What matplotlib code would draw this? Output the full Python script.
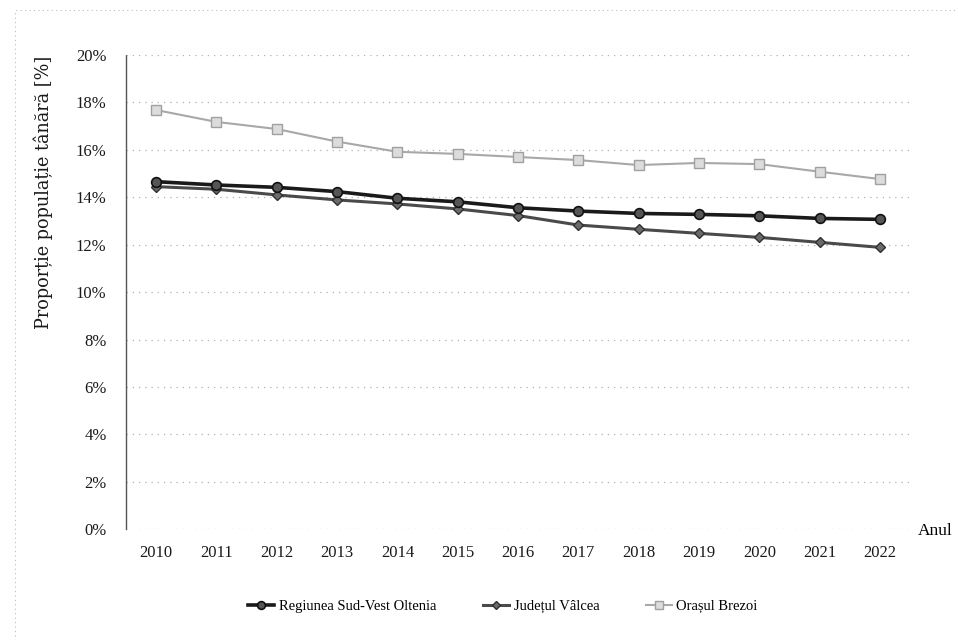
import numpy as np
import matplotlib.pyplot as plt
from matplotlib.patches import Rectangle

# Data (percent)
years = ["2010", "2011", "2012", "2013", "2014", "2015", "2016",
         "2017", "2018", "2019", "2020", "2021", "2022"]
regiunea = [14.66, 14.52, 14.42, 14.24, 13.96, 13.81, 13.56,
            13.42, 13.32, 13.28, 13.22, 13.11, 13.07]
valcea = [14.45, 14.34, 14.10, 13.89, 13.72, 13.51, 13.23,
          12.83, 12.65, 12.48, 12.31, 12.10, 11.89]
brezoi = [17.68, 17.18, 16.88, 16.35, 15.92, 15.83, 15.70,
          15.57, 15.36, 15.45, 15.40, 15.08, 14.77]
y_ticks = [0, 2, 4, 6, 8, 10, 12, 14, 16, 18, 20]

plt.rcParams['font.family'] = ['Liberation Serif', 'DejaVu Serif']

fig = plt.figure(figsize=(9.58, 6.40), dpi=100)
ax = fig.add_axes([0.1315, 0.173, 0.8185, 0.741])

x = np.arange(len(years))

ax.plot(x, brezoi, color='#a8a8a8', lw=1.5, marker='s', ms=6.5,
        mfc='#dcdcdc', mec='#a0a0a0', mew=1.0, label='Orașul Brezoi', zorder=3)
ax.plot(x, valcea, color='#4a4a4a', lw=2.2, marker='D', ms=5,
        mfc='#6a6a6a', mec='#303030', mew=1.0, label='Județul Vâlcea', zorder=4)
ax.plot(x, regiunea, color='#1a1a1a', lw=2.6, marker='o', ms=7,
        mfc='#555555', mec='#111111', mew=1.2, label='Regiunea Sud-Vest Oltenia', zorder=5)

ax.set_xlim(-0.5, len(years) - 0.5)
ax.set_ylim(0, 20)
ax.set_xticks(x)
ax.set_xticklabels(years)
ax.set_yticks(y_ticks)
ax.set_yticklabels([f"{v}%" for v in y_ticks])
ax.tick_params(axis='both', length=0, labelsize=12, colors='#1a1a1a')
ax.tick_params(axis='x', pad=11)
ax.tick_params(axis='y', pad=14)

ax.grid(axis='y', color='#b0b0b0', linestyle=(0, (1, 4)), lw=0.9)
ax.set_axisbelow(True)
for s in ['top', 'right', 'bottom']:
    ax.spines[s].set_visible(False)
ax.spines['left'].set_color('#555555')
ax.spines['left'].set_linestyle((0, (1, 1)))
ax.spines['left'].set_linewidth(1.0)

# y label sits above the axes centre in the original
fig.text(0.045, 0.70, 'Proporție populație tânără [%]', rotation=90,
         ha='center', va='center', fontsize=12.7, family='DejaVu Serif',
         color='#1a1a1a')
fig.text(0.958, 0.17, 'Anul', fontsize=12.5, ha='left', va='center')

handles, labels = ax.get_legend_handles_labels()
order = [2, 1, 0]
fig.legend([handles[i] for i in order], [labels[i] for i in order],
           loc='center', bbox_to_anchor=(0.525, 0.052), ncol=3, frameon=False,
           fontsize=10.5, handlelength=1.8, columnspacing=3.2, handletextpad=0.3,
           markerscale=0.8)

# outer chart frame
fig.patches.append(Rectangle((0.016, -0.01), 1.0, 0.995, transform=fig.transFigure,
                             fill=False, ec='#bbbbbb', lw=0.8, ls=(0, (1, 3))))

fig.savefig('out.png', dpi=100)
